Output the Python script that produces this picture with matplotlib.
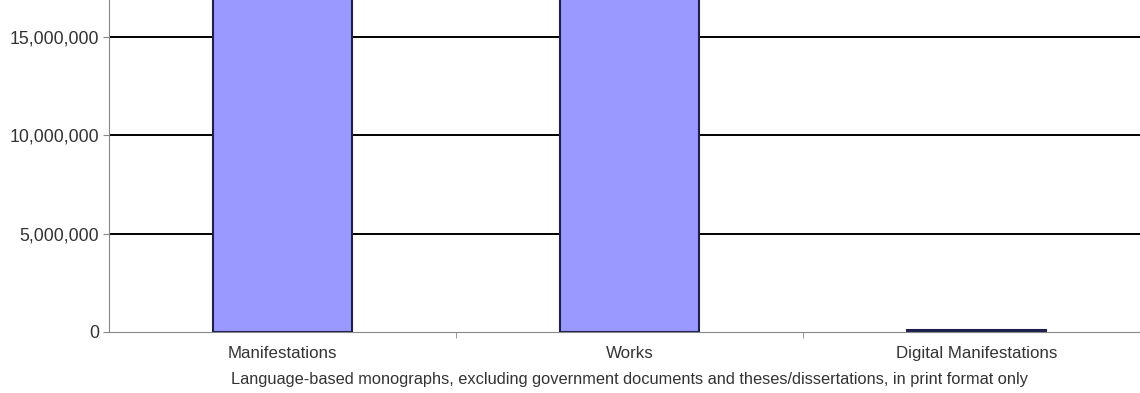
import matplotlib
matplotlib.use("Agg")
import matplotlib.pyplot as plt
from matplotlib.ticker import FuncFormatter

# record counts per category
categories = ["Manifestations", "Works", "Digital Manifestations"]
counts = [32000000, 26000000, 120000]
yticks = [0, 5000000, 10000000, 15000000]

plt.rcParams["font.family"] = ["Liberation Sans", "DejaVu Sans"]

fig = plt.figure(figsize=(11.4, 3.93), dpi=100)
ax = fig.add_axes([109 / 1140, 61 / 393, 1041 / 1140, 332 / 393])

x = range(len(categories))
ax.bar(x, counts, width=0.4, color="#9999ff", edgecolor="#1f1f4d",
       linewidth=1.5, zorder=3)

ax.set_xlim(-0.5, 2.5)
ax.set_ylim(0, 16880000)
ax.set_yticks(yticks)
ax.yaxis.set_major_formatter(FuncFormatter(lambda v, p: f"{int(v):,}"))
# horizontal gridlines (not at zero, the axis line sits there)
for y in yticks[1:]:
    ax.axhline(y, color="black", linewidth=1.4, zorder=1)

ax.set_xticks(list(x))
ax.set_xticklabels(categories)
ax.set_xticks([0.5, 1.5], minor=True)
ax.tick_params(axis="x", which="major", length=0, pad=10,
               labelsize=12.2, labelcolor="#333333")
ax.tick_params(axis="x", which="minor", length=4, color="#888888")
ax.tick_params(axis="y", length=4, color="#888888", labelsize=12.8,
               labelcolor="#333333", pad=3)

for side in ["top", "right"]:
    ax.spines[side].set_visible(False)
ax.spines["left"].set_color("#888888")
ax.spines["bottom"].set_color("#888888")
ax.spines["bottom"].set_zorder(4)

ax.set_xlabel("Language-based monographs, excluding government documents and "
              "theses/dissertations, in print format only",
              fontsize=11.8, color="#333333", labelpad=8)

fig.savefig("out.png", dpi=100)
